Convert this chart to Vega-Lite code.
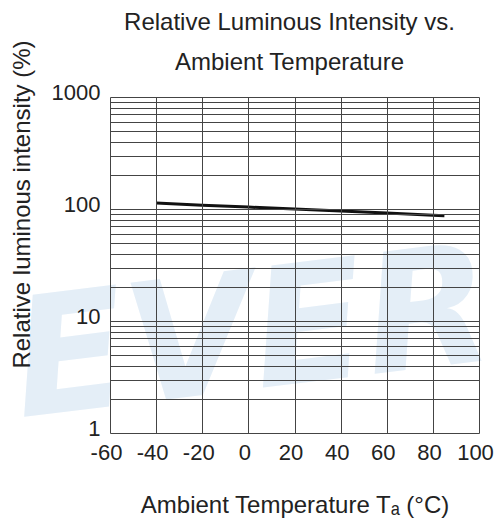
{
  "$schema": "https://vega.github.io/schema/vega-lite/v6.json",
  "width": 369,
  "height": 336,
  "autosize": "none",
  "padding": {"left": 110, "top": 97, "right": 18, "bottom": 90},
  "background": "white",
  "config": {"view": {"stroke": null}, "font": "Liberation Sans"},
  "title": {
    "text": ["Relative Luminous Intensity vs.", "Ambient Temperature"],
    "fontSize": 24,
    "fontWeight": "normal",
    "font": "Liberation Sans",
    "color": "#222222",
    "lineHeight": 40,
    "anchor": "middle",
    "baseline": "bottom",
    "offset": 24,
    "dx": -5,
    "dy": 86
  },
  "layer": [
    {
      "data": {"values": [{"label": "EVER"}]},
      "mark": {"type": "text", "fontSize": 165, "fontStyle": "italic", "fontWeight": "bold", "font": "DejaVu Sans", "color": "#e4eef7", "angle": -7, "baseline": "middle", "align": "center", "clip": false},
      "encoding": {
        "x": {"datum": 2, "type": "quantitative"},
        "y": {"datum": 7, "type": "quantitative"},
        "text": {"field": "label"}
      }
    },
    {
      "data": {"values": [
        {"temp": -40, "intensity": 113},
        {"temp": -20, "intensity": 108},
        {"temp": 0, "intensity": 104},
        {"temp": 20, "intensity": 100},
        {"temp": 40, "intensity": 96},
        {"temp": 60, "intensity": 92},
        {"temp": 80, "intensity": 88},
        {"temp": 85, "intensity": 87}
      ]},
      "mark": {"type": "line", "color": "#111111", "strokeWidth": 3},
      "encoding": {
        "x": {
          "field": "temp", "type": "quantitative",
          "scale": {"domain": [-60, 100], "nice": false},
          "axis": {
            "values": [-60, -40, -20, 0, 20, 40, 60, 80, 100],
            "labelExpr": "datum.value + ''",
            "labelOverlap": false,
            "labelFlush": false,
            "labelOffset": -4,
            "grid": true, "gridColor": "#444444", "gridWidth": 1, "gridOpacity": 1,
            "domain": false, "ticks": false,
            "labelFontSize": 22, "labelColor": "#222222", "labelPadding": 9, "labelFont": "Liberation Sans",
            "title": "Ambient Temperature Tₐ (°C)",
            "titleFontSize": 24, "titleFontWeight": "normal", "titleColor": "#222222", "titleFont": "Liberation Sans",
            "titlePadding": 30,
            "zindex": 1
          }
        },
        "y": {
          "field": "intensity", "type": "quantitative",
          "scale": {"type": "log", "domain": [1, 1000], "nice": false},
          "axis": {
            "values": [1, 2, 3, 4, 5, 6, 7, 8, 9, 10, 20, 30, 40, 50, 60, 70, 80, 90, 100, 200, 300, 400, 500, 600, 700, 800, 900, 1000],
            "labelExpr": "(datum.value == 1 || datum.value == 10 || datum.value == 100 || datum.value == 1000) ? datum.value + '' : ''",
            "grid": true, "gridColor": "#444444", "gridWidth": 1, "gridOpacity": 1,
            "domain": false, "ticks": false,
            "labelFontSize": 22, "labelColor": "#222222", "labelPadding": 10, "labelOffset": -5, "labelFont": "Liberation Sans",
            "labelOverlap": false,
            "labelFlush": false,
            "title": "Relative luminous intensity  (%)",
            "titleFontSize": 24, "titleFontWeight": "normal", "titleColor": "#222222", "titleFont": "Liberation Sans",
            "titleAngle": -90, "titleAlign": "center", "titleBaseline": "middle",
            "titleX": -88, "titleY": 107,
            "zindex": 1
          }
        }
      }
    }
  ]
}
